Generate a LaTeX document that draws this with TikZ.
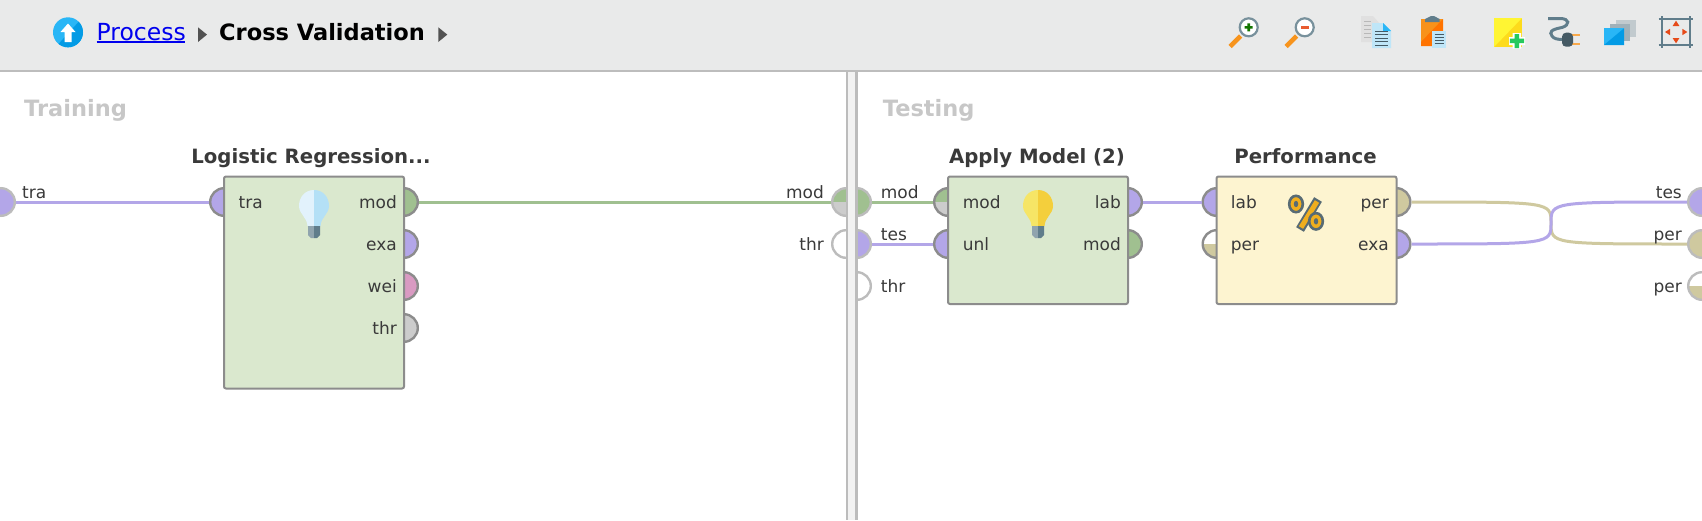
\documentclass[tikz,border=0pt]{standalone}
\usepackage{fontspec}
\setmainfont{DejaVu Sans}
\usepackage{tikz}
\definecolor{barbg}{HTML}{E9EAEA}
\definecolor{barline}{HTML}{BDBDBD}
\definecolor{lilac}{HTML}{B3A6E8}
\definecolor{moss}{HTML}{A0C090}
\definecolor{khaki}{HTML}{CFC99F}
\definecolor{rose}{HTML}{D99AC2}
\definecolor{ash}{HTML}{CCCCCC}
\definecolor{opgreen}{HTML}{DAE8CE}
\definecolor{opyellow}{HTML}{FDF4D0}
\definecolor{opedge}{HTML}{8C8C8C}
\definecolor{paneledge}{HTML}{BCBCBC}
\definecolor{txt}{HTML}{3A3A3A}
\definecolor{slate}{HTML}{607D8B}
\definecolor{darkslate}{HTML}{455A64}
\definecolor{skyA}{HTML}{29B6F6}
\definecolor{skyB}{HTML}{039BE5}
\definecolor{paleblue}{HTML}{BFE6F8}
\definecolor{handle}{HTML}{F7941D}
\definecolor{redorange}{HTML}{E64A19}
\definecolor{linkblue}{HTML}{0000EE}
\definecolor{pctorange}{HTML}{F0AE1E}
\definecolor{bulbA}{HTML}{E2F2FC}
\definecolor{bulbB}{HTML}{B4E0F6}
\definecolor{bulbC}{HTML}{F6E566}
\definecolor{bulbD}{HTML}{F4CF3C}
\begin{document}
\begin{tikzpicture}[
    x=1pt,y=-1pt,
    opbox/.style={anchor=north west,draw=opedge,line width=2pt,rounded corners=2pt,minimum height=#1,minimum width=180,inner sep=0,outer sep=0},
    port/.style n args={3}{circle,draw=#3,line width=2.4pt,minimum size=27.6,inner sep=0,
      path picture={
        \fill[#1] (path picture bounding box.north west) rectangle (path picture bounding box.east);
        \fill[#2] (path picture bounding box.west) rectangle (path picture bounding box.south east);
      }},
    opin/.style 2 args={port={#1}{#2}{opedge}},
    panelport/.style 2 args={port={#1}{#2}{paneledge}},
    conn/.style={line width=3pt,draw=#1},
    lbl/.style={font=\fontsize{17}{17}\selectfont,text=txt,inner sep=0},
    lbll/.style={lbl,anchor=base west},
    lblr/.style={lbl,anchor=base east},
    optitle/.style={font=\fontsize{19.7}{20}\bfseries\selectfont,text=txt,inner sep=0,anchor=base},
    panetitle/.style={font=\fontsize{22.5}{22.5}\bfseries\selectfont,text=black!22,inner sep=0,anchor=base west},
    pics/bulb/.style n args={2}{code={
      \fill[#1] (0,-16) .. controls (-9,-16) and (-15,-9) .. (-15,0) .. controls (-15,8) and (-7,11) .. (-6.5,20) -- (0,20) -- cycle;
      \fill[#2] (0,-16) .. controls (9,-16) and (15,-9) .. (15,0) .. controls (15,8) and (7,11) .. (6.5,20) -- (0,20) -- cycle;
      \fill[slate!70] (-6,20) -- (0,20) -- (0,32) -- (-3,32) -- (-6,29) -- cycle;
      \fill[slate] (6,20) -- (0,20) -- (0,32) -- (3,32) -- (6,29) -- cycle;
    }}
  ]
  \useasboundingbox (0,0) rectangle (1702,520);
  \fill[white] (0,0) rectangle (1702,520);
  \fill[barbg] (0,0) rectangle (1702,70);
  \fill[barline] (0,70) rectangle (1702,72);

  \fill[skyA] (68,32.3) circle (15);
  \begin{scope}
    \clip (68,32.3) circle (15);
    \fill[skyB] (83,17) -- (85,50) -- (53,50) -- cycle;
  \end{scope}
  \fill[white] (60.5,32) -- (68,23.5) -- (75.5,32) -- (71.5,32) -- (71.5,42) -- (64.5,42) -- (64.5,32) -- cycle;
  \node[inner sep=0,anchor=base west,font=\fontsize{23.5}{23.5}\selectfont,text=linkblue] (procLink) at (96.5,40) {Process};
  \draw[line width=1.6pt,draw=linkblue] (96.5,42) -- (184.7,42);
  \node[inner sep=0,anchor=base west,font=\fontsize{22.5}{22.5}\bfseries\selectfont,text=black] (crossLbl) at (219,40) {Cross Validation};
  \foreach\x in {198,438.3}{\fill[black!68] (\x,27.3) -- (\x+9,34.6) -- (\x,42) -- cycle;}

  \foreach\x in {1248.7,1304.7}{
    \draw[handle,line width=4.6pt] (\x-8,36) -- (\x-18.5,46.5);
    \draw[slate!85,fill=white,line width=2.2pt] (\x,27.3) circle (9);
  }
  \fill[green!45!black!85!olive] (1244.7,26) rectangle (1252.7,28.6) (1247.4,23.3) rectangle (1250,31.3);
  \fill[redorange!90] (1300.7,26) rectangle (1308.7,28.6);

  \fill[black!12] (1361,16) -- (1373,16) -- (1380,24) -- (1380,42) -- (1361,42) -- cycle;
  \foreach\y in {21,25,29,33,37}{\draw[black!28,line width=.9pt] (1364,\y) -- (1371,\y);}
  \fill[paleblue] (1372,23) -- (1383,23) -- (1391,31) -- (1391,48) -- (1372,48) -- cycle;
  \fill[skyA] (1383,23) -- (1391,31) -- (1383,31) -- cycle;
  \foreach\y in {31,34.5,38,41.5,45}{\draw[darkslate,line width=.9pt] (1375,\y) -- (1388,\y);}

  \fill[handle!90!orange] (1421,19) rectangle (1443,46);
  \fill[orange!90!red] (1421,46) -- (1421,42) -- (1443,19) -- (1443,46) -- cycle;
  \fill[slate] (1425,22) -- (1425,19) -- (1431,16) -- (1434,16) -- (1439.5,19) -- (1439.5,22) -- cycle;
  \fill[paleblue] (1432.3,31) rectangle (1446,48);
  \foreach\y in {34.5,37.5,40.5,43.5}{\draw[darkslate,line width=.7pt] (1434.5,\y) -- (1444,\y);}

  \fill[yellow!75!orange!90] (1494,18) rectangle (1522,47);
  \fill[yellow!80!white] (1494,18) -- (1522,18) -- (1494,47) -- cycle;
  \fill[white] (1512.5,33) rectangle (1521,48.5) (1509,37) rectangle (1525,45);
  \fill[green!50!teal!85] (1514.5,34) rectangle (1519,48) (1509.8,38.7) rectangle (1524,43.2);

  \draw[slate,line width=3pt] (1548,18.5) -- (1560,18.5) .. controls (1570,18.5) and (1570,25) .. (1562,27.5) .. controls (1551,29.5) and (1549,32) .. (1552,36) .. controls (1554,39) and (1558,39.5) .. (1563,39.5);
  \draw[handle!80,line width=2.2pt] (1572,35) -- (1580,35) (1572,44) -- (1580,44);
  \fill[darkslate,rounded corners=4pt] (1562,32.7) rectangle (1573,46.7);

  \fill[black!18!slate!35] (1616,20) rectangle (1636,37);
  \fill[slate!60] (1610,24) rectangle (1630,41);
  \fill[skyA] (1604,28.3) rectangle (1624,45);
  \fill[skyB] (1604,45) -- (1624,28.3) -- (1624,45) -- cycle;

  \draw[slate,line width=2pt] (1658.5,18.5) -- (1692.5,18.5) (1658.5,45) -- (1692.5,45) (1662,16) -- (1662,47.5) (1690,16) -- (1690,47.5);
  \fill[redorange] (1676,20.7) -- (1679.4,26) -- (1672.6,26) -- cycle (1676,43.3) -- (1679.4,38) -- (1672.6,38) -- cycle (1665,32) -- (1670,28.8) -- (1670,35.2) -- cycle (1687.3,32) -- (1682.3,28.8) -- (1682.3,35.2) -- cycle;

  \node[panetitle] (trainTitle) at (24,116.5) {Training};
  \node[panetitle] (testTitle) at (882.7,116.5) {Testing};

  \begin{scope}
    \clip (0,72) rectangle (846,520);
    \node[panelport={lilac}{lilac}] (trainTra) at (1,202) {};
    \node[panelport={moss}{ash}] (trainMod) at (846,202) {};
    \node[panelport={white}{white}] (trainThr) at (846,244) {};
  \end{scope}
  \begin{scope}
    \clip (857,72) rectangle (1702,520);
    \node[panelport={moss}{moss}] (testMod) at (857,202) {};
    \node[panelport={lilac}{lilac}] (testTes) at (857,244) {};
    \node[panelport={white}{white}] (testThr) at (857,286) {};
    \node[panelport={lilac}{lilac}] (outTes) at (1702,202) {};
    \node[panelport={khaki}{khaki}] (outPer) at (1702,244) {};
    \node[panelport={white}{khaki}] (outAvg) at (1702,286) {};
  \end{scope}

  \foreach\nm/\x/\y/\ca/\cb in {lrTra/224/202/lilac/lilac,lrMod/404/202/moss/moss,lrExa/404/244/lilac/lilac,lrWei/404/286/rose/rose,lrThr/404/328/ash/ash,
    amMod/948/202/moss/ash,amUnl/948/244/lilac/lilac,amLab/1128/202/lilac/lilac,amOut/1128/244/moss/moss,
    pfLab/1216.5/202/lilac/lilac,pfPer/1216.5/244/white/khaki,pfOut/1396.5/202/khaki/khaki,pfExa/1396.5/244/lilac/lilac}{
    \node[opin={\ca}{\cb}] (\nm) at (\x,\y) {};
  }

  \node[opbox=212,fill=opgreen] (lrBox) at (224,176.5) {};
  \node[opbox=127.5,fill=opgreen] (amBox) at (948,176.5) {};
  \node[opbox=127.5,fill=opyellow] (pfBox) at (1216.5,176.5) {};

  \node[optitle] (lrTitle) at (311,163) {Logistic Regression...};
  \node[optitle] (amTitle) at (1037,163) {Apply Model (2)};
  \node[optitle] (pfTitle) at (1305.5,163) {Performance};

  \pic at (314,206) {bulb={bulbA}{bulbB}};
  \pic at (1038,206) {bulb={bulbC}{bulbD}};

  \draw[darkslate!90,line width=9pt] (1318,199.5) -- (1300,229.5);
  \draw[pctorange,line width=5pt] (1317,201.5) -- (1301,227.5);
  \foreach\x/\y in {1296/204,1316/221.3}{
    \draw[darkslate!90,fill=pctorange,line width=2.6pt] (\x,\y) ellipse (6.8 and 8.2);
    \fill[darkslate!90] (\x,\y) ellipse (2.2 and 3.2);
  }

  \draw[conn=lilac] (trainTra) -- (lrTra);
  \draw[conn=moss] (lrMod) -- (trainMod);
  \draw[conn=moss] (testMod) -- (amMod);
  \draw[conn=lilac] (testTes) -- (amUnl);
  \draw[conn=lilac] (amLab) -- (pfLab);
  \draw[conn=khaki] (pfOut.east) .. controls (1551,202) and (1551,202) .. (1551,223) .. controls (1551,244) and (1551,244) .. (outPer.west);
  \draw[conn=lilac] (pfExa.east) .. controls (1551,244) and (1551,244) .. (1551,223) .. controls (1551,202) and (1551,202) .. (outTes.west);

  \fill[paneledge] (846,72) rectangle (857.5,520);
  \fill[black!5] (848.2,72) rectangle (855.2,520);

  \foreach\nm/\x/\y/\t in {a/22/198/tra,b/238.5/208/tra,c/880.7/198/mod,d/880.7/240/tes,e/880.7/292/thr,f/962.7/208/mod,g/962.7/250/unl,h/1230.7/208/lab,i/1230.7/250/per}{
    \node[lbll] (lab\nm) at (\x,\y) {\t};
  }
  \foreach\nm/\x/\y/\t in {j/397/208/mod,k/397/250/exa,l/397/292/wei,m/397/334/thr,n/824/198/mod,o/824/250/thr,p/1121/208/lab,q/1121/250/mod,r/1389/208/per,s/1389/250/exa,t/1682/198/tes,u/1682/240/per,v/1682/292/per}{
    \node[lblr] (lab\nm) at (\x,\y) {\t};
  }
\end{tikzpicture}
\end{document}
